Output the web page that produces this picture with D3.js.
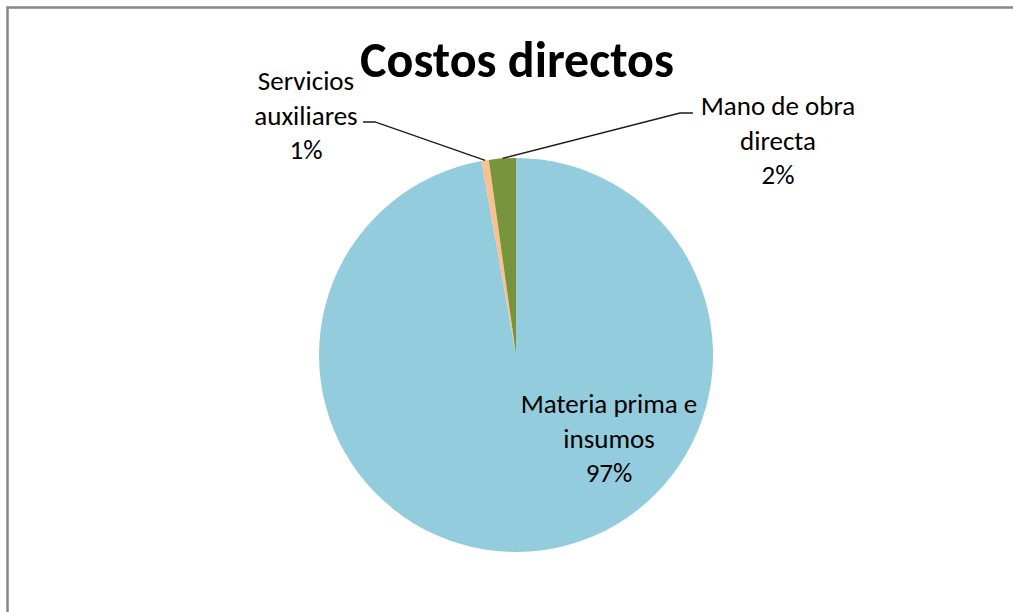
<!DOCTYPE html>
<html>
<head>
<meta charset="utf-8">
<script src="https://cdn.jsdelivr.net/npm/d3@7/dist/d3.min.js"></script>
<style>
  html, body { margin: 0; padding: 0; background: #fff; overflow: hidden; }
  svg { display: block; }
  text { font-family: Calibri, Carlito, Lato, "Open Sans", sans-serif; fill: #000; }
</style>
</head>
<body>
<svg id="chart" width="1013" height="612"></svg>
<script>
// Direct cost breakdown (share of total, %)
const categories = ["Materia prima e insumos", "Servicios auxiliares", "Mano de obra directa"];
const values = [97.2, 0.6, 2.2];
const colors = ["#93CDDD", "#FAC090", "#77933C"];
const title = "Costos directos";

// Label text lines for each slice (the percentage is appended as the last line)
const labelLines = [
  ["Materia prima e", "insumos"],
  ["Servicios", "auxiliares"],
  ["Mano de obra", "directa"]
];

const svg = d3.select("#chart");
const W = 1013, H = 612;

// Chart area frame (runs past the right and bottom edges)
svg.append("rect")
  .attr("x", 7.5).attr("y", 7.5)
  .attr("width", W + 60).attr("height", H + 60)
  .attr("fill", "#fff")
  .attr("stroke", "#878787")
  .attr("stroke-width", 2.5);

// Title
svg.append("text")
  .attr("x", 517).attr("y", 77)
  .attr("text-anchor", "middle")
  .attr("font-weight", "bold")
  .attr("font-size", 50)
  .text(title);

const cx = 516, cy = 355, r = 197;
const g = svg.append("g").attr("transform", `translate(${cx},${cy})`);

const pie = d3.pie().sort(null).value(d => d.value);
const data = categories.map((c, i) => ({ name: c, value: values[i], color: colors[i], lines: labelLines[i] }));
const arcs = pie(data);
const total = d3.sum(values);

const arc = d3.arc().innerRadius(0).outerRadius(r);

g.selectAll("path.slice")
  .data(arcs)
  .join("path")
  .attr("class", "slice")
  .attr("d", arc)
  .attr("fill", d => d.data.color);

// Label placement: text centre x, baseline of first line, and optional leader elbow/end
const labelLayout = [
  { x: 609, y: 413, leader: null },
  { x: 306, y: 90, leader: { elbow: [375, 122], end: [363, 122] } },
  { x: 778, y: 115, leader: { elbow: [680, 113], end: [693, 113] } }
];
const lineGap = 34.5;
const pct = d3.format(".0%");

arcs.forEach((a, i) => {
  const lay = labelLayout[i];
  const lines = a.data.lines.concat([pct(a.data.value / total)]);
  const t = svg.append("text")
    .attr("text-anchor", "middle")
    .attr("font-size", 27);
  lines.forEach((ln, k) => {
    t.append("tspan").attr("x", lay.x).attr("y", lay.y + k * lineGap).text(ln);
  });

  if (lay.leader) {
    const mid = (a.startAngle + a.endAngle) / 2;
    const sx = cx + r * Math.sin(mid);
    const sy = cy - r * Math.cos(mid);
    const pts = [[sx, sy], lay.leader.elbow, lay.leader.end];
    svg.append("path")
      .attr("d", d3.line()(pts))
      .attr("fill", "none")
      .attr("stroke", "#1a1a1a")
      .attr("stroke-width", 1.3);
  }
});
</script>
</body>
</html>
